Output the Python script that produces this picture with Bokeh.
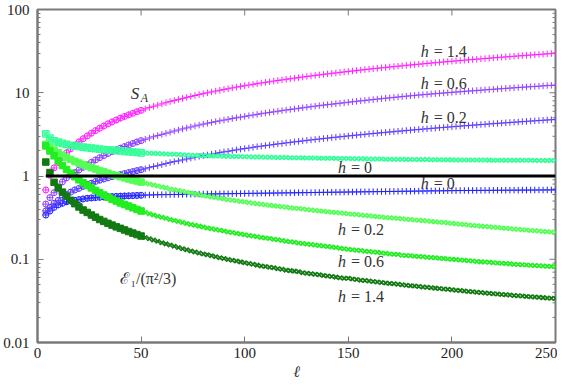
import math
from bokeh.plotting import figure
from bokeh.models import Label, FixedTicker, Range1d, CustomJSTickFormatter
from bokeh.embed import file_html
from bokeh.resources import INLINE

# subsystem sizes l = 4, 6, ..., 250
ell = list(range(4, 251, 2))
n_small = 24  # points with l <= 50 (second data set, circles / squares)

# entanglement entropy S_A
S_h14 = [0.68, 1.02, 1.25, 1.45, 1.68, 1.9, 2.12, 2.35, 2.57, 2.8,
         3.03, 3.27, 3.51, 3.75, 3.99, 4.23, 4.47, 4.71, 4.95, 5.19,
         5.43, 5.67, 5.91, 6.15, 6.39, 6.63, 6.87, 7.11, 7.35, 7.59,
         7.83, 8.07, 8.31, 8.55, 8.79, 9.03, 9.27, 9.51, 9.75, 9.99,
         10.23, 10.47, 10.71, 10.95, 11.19, 11.43, 11.67, 11.91, 12.15, 12.39,
         12.62, 12.86, 13.09, 13.33, 13.56, 13.8, 14.03, 14.27, 14.5, 14.74,
         14.97, 15.21, 15.44, 15.68, 15.91, 16.15, 16.38, 16.62, 16.85, 17.09,
         17.32, 17.56, 17.79, 18.03, 18.26, 18.5, 18.73, 18.97, 19.2, 19.44,
         19.67, 19.91, 20.14, 20.38, 20.61, 20.85, 21.08, 21.32, 21.55, 21.79,
         22.02, 22.26, 22.49, 22.73, 22.96, 23.2, 23.43, 23.67, 23.9, 24.14,
         24.37, 24.61, 24.84, 25.08, 25.31, 25.55, 25.78, 26.02, 26.25, 26.49,
         26.72, 26.96, 27.19, 27.43, 27.66, 27.9, 28.13, 28.37, 28.6, 28.84,
         29.07, 29.31, 29.54, 29.78]
S_h06 = [0.46, 0.55, 0.63, 0.74, 0.85, 0.95, 1.03, 1.1, 1.18, 1.27,
         1.36, 1.46, 1.56, 1.66, 1.76, 1.86, 1.96, 2.06, 2.16, 2.26,
         2.36, 2.46, 2.56, 2.66, 2.76, 2.86, 2.96, 3.06, 3.16, 3.26,
         3.36, 3.47, 3.57, 3.68, 3.78, 3.88, 3.99, 4.09, 4.2, 4.3,
         4.4, 4.5, 4.6, 4.7, 4.8, 4.9, 5.0, 5.1, 5.2, 5.3,
         5.4, 5.5, 5.6, 5.7, 5.8, 5.9, 6.0, 6.1, 6.2, 6.3,
         6.4, 6.5, 6.6, 6.7, 6.8, 6.9, 7.0, 7.1, 7.2, 7.29,
         7.39, 7.49, 7.59, 7.69, 7.79, 7.89, 7.99, 8.09, 8.19, 8.29,
         8.39, 8.49, 8.59, 8.69, 8.79, 8.89, 8.99, 9.09, 9.19, 9.29,
         9.39, 9.48, 9.57, 9.66, 9.75, 9.84, 9.93, 10.02, 10.11, 10.2,
         10.29, 10.38, 10.47, 10.56, 10.65, 10.74, 10.83, 10.92, 11.01, 11.1,
         11.19, 11.28, 11.37, 11.46, 11.55, 11.64, 11.73, 11.82, 11.91, 12.0,
         12.09, 12.18, 12.27, 12.36]
S_h02 = [0.38, 0.42, 0.47, 0.51, 0.55, 0.6, 0.64, 0.68, 0.71, 0.75,
         0.79, 0.82, 0.86, 0.89, 0.92, 0.95, 0.98, 1.01, 1.04, 1.07,
         1.1, 1.13, 1.16, 1.19, 1.22, 1.26, 1.3, 1.33, 1.37, 1.41,
         1.45, 1.49, 1.52, 1.56, 1.6, 1.64, 1.68, 1.72, 1.76, 1.79,
         1.83, 1.87, 1.91, 1.95, 1.98, 2.02, 2.06, 2.1, 2.14, 2.17,
         2.21, 2.25, 2.28, 2.32, 2.35, 2.39, 2.43, 2.46, 2.5, 2.53,
         2.57, 2.6, 2.64, 2.68, 2.71, 2.75, 2.78, 2.82, 2.85, 2.89,
         2.92, 2.96, 2.99, 3.03, 3.06, 3.1, 3.13, 3.17, 3.2, 3.24,
         3.27, 3.31, 3.34, 3.38, 3.41, 3.45, 3.48, 3.52, 3.55, 3.59,
         3.62, 3.66, 3.69, 3.73, 3.76, 3.8, 3.83, 3.87, 3.9, 3.94,
         3.97, 4.01, 4.04, 4.08, 4.11, 4.15, 4.18, 4.22, 4.25, 4.29,
         4.32, 4.36, 4.39, 4.43, 4.46, 4.5, 4.53, 4.57, 4.6, 4.64,
         4.67, 4.71, 4.74, 4.78]
S_h0 = [0.34, 0.38, 0.42, 0.45, 0.47, 0.49, 0.5, 0.51, 0.52, 0.53,
        0.54, 0.545, 0.55, 0.555, 0.56, 0.563, 0.566, 0.569, 0.572, 0.575,
        0.578, 0.581, 0.584, 0.587, 0.59, 0.592, 0.594, 0.596, 0.597, 0.598,
        0.599, 0.6, 0.601, 0.602, 0.603, 0.604, 0.605, 0.606, 0.607, 0.608,
        0.609, 0.61, 0.611, 0.612, 0.613, 0.614, 0.615, 0.616, 0.617, 0.618,
        0.619, 0.62, 0.621, 0.622, 0.623, 0.624, 0.625, 0.626, 0.627, 0.628,
        0.629, 0.63, 0.631, 0.632, 0.633, 0.634, 0.635, 0.636, 0.637, 0.638,
        0.639, 0.64, 0.641, 0.642, 0.643, 0.644, 0.645, 0.646, 0.647, 0.648,
        0.649, 0.65, 0.651, 0.652, 0.653, 0.654, 0.655, 0.656, 0.657, 0.658,
        0.659, 0.66, 0.661, 0.662, 0.663, 0.664, 0.665, 0.666, 0.667, 0.668,
        0.669, 0.67, 0.67, 0.671, 0.671, 0.672, 0.672, 0.673, 0.673, 0.674,
        0.674, 0.675, 0.675, 0.676, 0.676, 0.677, 0.677, 0.678, 0.678, 0.679,
        0.679, 0.68, 0.68, 0.68]

# first excited level E_1 / (pi^2/3)
E_h0 = [3.2, 2.85, 2.65, 2.55, 2.47, 2.4, 2.34, 2.3, 2.26, 2.22,
        2.19, 2.16, 2.13, 2.1, 2.08, 2.06, 2.04, 2.02, 2.0, 1.98,
        1.96, 1.94, 1.92, 1.9, 1.89, 1.88, 1.87, 1.86, 1.85, 1.84,
        1.83, 1.82, 1.81, 1.8, 1.79, 1.78, 1.77, 1.76, 1.755, 1.75,
        1.745, 1.74, 1.735, 1.73, 1.725, 1.72, 1.715, 1.71, 1.705, 1.70,
        1.696, 1.692, 1.688, 1.684, 1.68, 1.676, 1.672, 1.668, 1.664, 1.66,
        1.657, 1.654, 1.651, 1.648, 1.645, 1.642, 1.639, 1.636, 1.633, 1.63,
        1.627, 1.624, 1.621, 1.618, 1.615, 1.612, 1.609, 1.606, 1.603, 1.6,
        1.598, 1.596, 1.594, 1.592, 1.59, 1.588, 1.586, 1.584, 1.582, 1.58,
        1.578, 1.576, 1.574, 1.572, 1.57, 1.568, 1.566, 1.564, 1.562, 1.56,
        1.558, 1.557, 1.556, 1.555, 1.554, 1.553, 1.552, 1.551, 1.55, 1.549,
        1.548, 1.547, 1.546, 1.545, 1.544, 1.543, 1.542, 1.541, 1.54, 1.539,
        1.538, 1.537, 1.536, 1.535]
E_h02 = [2.4, 2.2, 2.05, 1.9, 1.78, 1.67, 1.58, 1.5, 1.43, 1.37,
         1.31, 1.26, 1.21, 1.16, 1.12, 1.08, 1.04, 1.01, 0.98, 0.95,
         0.92, 0.895, 0.87, 0.845, 0.82, 0.8, 0.78, 0.76, 0.74, 0.72,
         0.7, 0.685, 0.67, 0.655, 0.64, 0.625, 0.61, 0.597, 0.584, 0.572,
         0.56, 0.55, 0.54, 0.53, 0.52, 0.511, 0.503, 0.495, 0.487, 0.479,
         0.472, 0.465, 0.458, 0.452, 0.446, 0.44, 0.434, 0.428, 0.422, 0.416,
         0.411, 0.406, 0.401, 0.396, 0.391, 0.386, 0.381, 0.376, 0.372, 0.368,
         0.364, 0.36, 0.356, 0.352, 0.348, 0.344, 0.34, 0.336, 0.332, 0.328,
         0.325, 0.322, 0.318, 0.315, 0.312, 0.309, 0.306, 0.303, 0.3, 0.297,
         0.294, 0.291, 0.288, 0.285, 0.282, 0.279, 0.276, 0.273, 0.27, 0.267,
         0.264, 0.261, 0.258, 0.255, 0.252, 0.25, 0.247, 0.245, 0.242, 0.24,
         0.238, 0.235, 0.233, 0.231, 0.229, 0.226, 0.224, 0.222, 0.22, 0.218,
         0.216, 0.214, 0.213, 0.211]
E_h06 = [2.3, 2.0, 1.75, 1.52, 1.34, 1.2, 1.08, 0.98, 0.9, 0.83,
         0.77, 0.72, 0.67, 0.63, 0.59, 0.555, 0.525, 0.5, 0.475, 0.455,
         0.435, 0.415, 0.397, 0.38, 0.365, 0.352, 0.34, 0.329, 0.319, 0.31,
         0.301, 0.292, 0.284, 0.276, 0.269, 0.262, 0.256, 0.25, 0.244, 0.238,
         0.233, 0.228, 0.223, 0.218, 0.213, 0.209, 0.205, 0.201, 0.197, 0.193,
         0.19, 0.186, 0.183, 0.18, 0.177, 0.174, 0.171, 0.168, 0.165, 0.162,
         0.16, 0.157, 0.155, 0.152, 0.15, 0.148, 0.146, 0.144, 0.142, 0.14,
         0.138, 0.136, 0.134, 0.132, 0.13, 0.128, 0.127, 0.125, 0.124, 0.122,
         0.121, 0.119, 0.118, 0.116, 0.115, 0.114, 0.112, 0.111, 0.11, 0.109,
         0.108, 0.107, 0.106, 0.105, 0.104, 0.103, 0.102, 0.101, 0.1, 0.099,
         0.098, 0.097, 0.096, 0.095, 0.094, 0.093, 0.0925, 0.0918, 0.091, 0.0902,
         0.0895, 0.0888, 0.088, 0.0873, 0.0866, 0.0859, 0.0852, 0.0846, 0.084, 0.0834,
         0.0828, 0.0822, 0.0817, 0.0812]
E_h14 = [1.47, 1.1, 0.84, 0.72, 0.64, 0.57, 0.51, 0.465, 0.425, 0.39,
         0.365, 0.34, 0.32, 0.3, 0.285, 0.27, 0.257, 0.245, 0.235, 0.225,
         0.215, 0.206, 0.198, 0.19, 0.183, 0.176, 0.17, 0.164, 0.158, 0.153,
         0.148, 0.143, 0.138, 0.134, 0.13, 0.126, 0.122, 0.119, 0.116, 0.113,
         0.11, 0.107, 0.104, 0.102, 0.099, 0.097, 0.095, 0.093, 0.091, 0.089,
         0.087, 0.085, 0.083, 0.082, 0.08, 0.079, 0.077, 0.076, 0.074, 0.073,
         0.072, 0.071, 0.069, 0.068, 0.067, 0.066, 0.065, 0.064, 0.063, 0.062,
         0.061, 0.06, 0.059, 0.059, 0.058, 0.057, 0.056, 0.0555, 0.0548, 0.054,
         0.0533, 0.0526, 0.052, 0.0513, 0.0507, 0.05, 0.0494, 0.0488, 0.0482, 0.0476,
         0.047, 0.0465, 0.046, 0.0455, 0.045, 0.0445, 0.044, 0.0435, 0.043, 0.0425,
         0.042, 0.0415, 0.041, 0.0406, 0.0402, 0.0398, 0.0394, 0.039, 0.0386, 0.0382,
         0.0378, 0.0374, 0.0371, 0.0368, 0.0364, 0.0361, 0.0358, 0.0355, 0.0352, 0.0349,
         0.0346, 0.0343, 0.034, 0.0338]

# reference line
ref_x = [4, 250]
ref_y = [1, 1]

x_ticks = [0, 50, 100, 150, 200, 250]
y_ticks = [0.01, 0.1, 1, 10, 100]
y_minor = [k * 10.0 ** e for e in (-2, -1, 0, 1) for k in range(2, 10)]

# curve annotations: (l, value, text)
h_labels = [(185, 31.0, "= 1.4"), (185, 13.0, "= 0.6"), (185, 5.1, "= 0.2"),
            (145, 1.27, "= 0"), (185, 0.82, "= 0"),
            (145, 0.226, "= 0.2"), (145, 0.094, "= 0.6"), (145, 0.036, "= 1.4")]

FONT = "Liberation Serif"
FRAME = "#7a7a7a"

p = figure(width=557, height=382, y_axis_type="log",
           x_range=Range1d(0, 250), y_range=Range1d(0.01, 100),
           output_backend="svg", toolbar_location=None,
           min_border_left=35, min_border_right=2, min_border_top=9, min_border_bottom=0)
p.grid.visible = False
p.outline_line_color = FRAME
p.outline_line_width = 2
p.background_fill_color = "white"

p.yaxis.ticker = FixedTicker(ticks=y_ticks, minor_ticks=y_minor)
p.xaxis.ticker = FixedTicker(ticks=x_ticks)
p.yaxis.formatter = CustomJSTickFormatter(code="return String(tick);")

for ax in p.xaxis + p.yaxis:
    ax.axis_line_color = FRAME
    ax.axis_line_width = 2
    ax.major_tick_line_color = FRAME
    ax.minor_tick_line_color = FRAME
    ax.major_tick_in = 6
    ax.major_tick_out = 0
    ax.minor_tick_in = 3
    ax.minor_tick_out = 0
    ax.major_label_text_font = FONT
    ax.major_label_text_font_size = "15px"
    ax.major_label_text_color = "#222222"
p.xaxis.major_label_standoff = 5
p.yaxis.major_label_standoff = 8
p.xaxis.minor_tick_line_color = None

p.xaxis.axis_label = "ℓ"
p.xaxis.axis_label_text_font = FONT
p.xaxis.axis_label_text_font_style = "italic"
p.xaxis.axis_label_text_font_size = "16px"
p.xaxis.axis_label_text_color = "#333333"
p.xaxis.axis_label_standoff = 2

# mirrored ticks on the top and right edges of the frame
top_x = x_ticks[1:-1]
p.ray(x=top_x, y=[y_ticks[-1]] * len(top_x), length=6, angle=-math.pi / 2,
      length_units="screen", line_color=FRAME, line_width=1)
right_major = y_ticks[1:-1]
p.ray(x=[x_ticks[-1]] * len(right_major), y=right_major, length=6, angle=math.pi,
      length_units="screen", line_color=FRAME, line_width=1)
p.ray(x=[x_ticks[-1]] * len(y_minor), y=y_minor, length=3, angle=math.pi,
      length_units="screen", line_color=FRAME, line_width=1)

ls = ell[:n_small]

s_series = [(S_h0, "#2222ff"), (S_h02, "#5a3cff"), (S_h06, "#9040ff"), (S_h14, "#ff22ff")]
for ys, c in s_series:
    p.scatter(ls, ys[:n_small], marker="circle", size=6, fill_color=None,
              line_color=c, line_width=1)
    p.scatter(ell, ys, marker="cross", size=6.5, line_color=c, line_width=1)

e_series = [(E_h0, "#33ff99", True), (E_h02, "#55ff55", False),
            (E_h06, "#22ee22", False), (E_h14, "#137a13", False)]
for ys, c, hollow in e_series:
    if hollow:
        p.scatter(ls, ys[:n_small], marker="square", size=6.5, fill_color=c, fill_alpha=0.35,
                  line_color=c, line_width=1.2)
    else:
        p.scatter(ls, ys[:n_small], marker="square", size=6.5, fill_color=c, line_color=c)
    p.scatter(ell, ys, marker="x", size=6, line_color=c, line_width=1.8)

p.line(ref_x, ref_y, line_color="black", line_width=3)

for x, y, t in h_labels:
    p.add_layout(Label(x=x, y=y, text="h", text_font=FONT, text_font_size="16px",
                       text_font_style="italic", text_baseline="middle", text_color="#333333"))
    p.add_layout(Label(x=x, y=y, x_offset=13, text=t, text_font=FONT, text_font_size="16px",
                       text_baseline="middle", text_color="#333333"))

p.add_layout(Label(x=45, y=9.9, text="S", text_font=FONT, text_font_size="17px",
                   text_font_style="italic", text_baseline="middle", text_color="#333333"))
p.add_layout(Label(x=45, y=9.9, x_offset=10, y_offset=-5, text="A", text_font=FONT,
                   text_font_size="12px", text_font_style="italic", text_baseline="middle",
                   text_color="#333333"))
p.add_layout(Label(x=40, y=0.059, text="ℰ₁/(π²/3)", text_font=FONT, text_font_size="16px",
                   text_baseline="middle", text_color="#333333"))

open("out.html", "w").write(file_html(p, INLINE))
